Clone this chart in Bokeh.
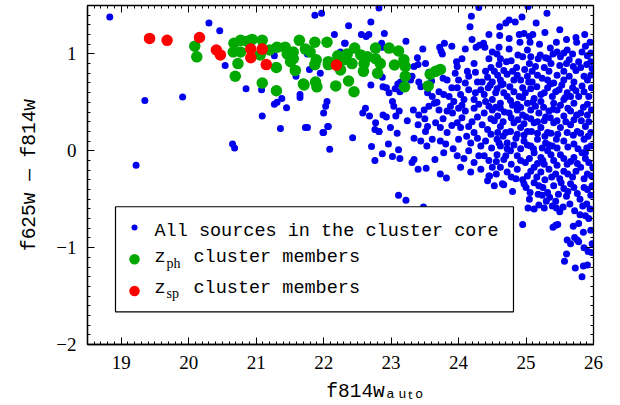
import math
from bokeh.plotting import figure
from bokeh.models import Range1d, FixedTicker, LinearAxis, Label, BoxAnnotation, ColumnDataSource
from bokeh.embed import file_html
from bokeh.resources import INLINE

x_ticks = [19, 20, 21, 22, 23, 24, 25, 26]
y_ticks = [-2, -1, 0, 1]
y_tick_labels = {-2: "\u22122", -1: "\u22121", 0: "0", 1: "1"}

# All sources in the cluster core (f814w_auto, f625w - f814w)
blue_pts = [
    (18.83, 1.38), (20.30, 1.32), (20.46, 1.24), (19.35, 0.52), (19.91, 0.555), (19.22, -0.15),
    (20.54, 0.88), (20.85, 0.64), (21.08, 0.63), (21.09, 0.36), (20.65, 0.07), (20.68, 0.03),
    (21.27, 0.98), (21.27, 0.48), (21.31, 0.50), (21.38, 0.54), (21.45, 0.445), (21.36, 0.23),
    (21.59, 0.77), (21.65, 0.58), (21.65, 0.55), (21.76, 0.24), (21.79, 0.84), (21.76, 1.00),
    (21.99, 0.19), (22.06, 0.25), (22.43, 0.135), (22.09, 0.016), (22.71, 0.043), (22.76, 0.22),
    (22.82, 0.20), (22.96, 0.07), (22.87, -0.03), (22.76, -0.10), (23.02, -0.06), (23.13, -0.08),
    (23.11, 0.01), (23.11, -0.46), (23.22, -0.51), (21.95, 0.80), (22.25, 1.02), (22.32, 1.11),
    (22.82, 1.475), (24.30, 1.48), (25.03, 1.49), (21.87, 1.40), (21.97, 1.42), (24.19, 1.39),
    (22.70, 1.33), (22.37, 1.29), (24.17, 1.28), (24.61, 1.28), (24.70, 1.32), (24.75, 1.35),
    (24.84, 1.33), (24.94, 1.38), (25.15, 1.32), (25.31, 1.42), (25.28, 1.22), (24.61, 1.19),
    (24.90, 1.20), (24.97, 1.21), (25.05, 1.18), (25.10, 1.20), (24.91, 1.12), (25.06, 1.12),
    (25.74, 1.17), (25.75, 1.12),
    (22.16, 1.20), (22.56, 1.20), (22.63, 1.18), (22.67, 1.20), (22.90, 1.21), (22.31, 1.11),
    (22.86, 1.11), (22.87, 1.07), (23.22, 1.13), (23.47, 1.05), (23.72, 1.07), (23.79, 1.11),
    (23.74, 1.03), (23.90, 1.08), (23.76, 1.00), (24.26, 1.07), (24.31, 1.09), (24.37, 1.11),
    (24.39, 1.07), (24.60, 1.07), (24.75, 1.05), (25.02, 1.04), (25.36, 1.06), (25.46, 1.02),
    (25.56, 1.01), (25.61, 1.04), (25.69, 1.00), (25.83, 1.02), (25.96, 1.01), (24.88, 0.99),
    (25.21, 0.99), (24.62, 0.95), (24.57, 1.00), (24.60, 0.89), (24.71, 0.92), (24.78, 0.93),
    (24.95, 0.97), (25.07, 0.97), (25.18, 0.95), (25.29, 0.96), (25.40, 1.00), (25.51, 0.97),
    (25.64, 0.94), (25.78, 0.92), (25.91, 0.98), (25.96, 0.92),
    (23.39, 0.96), (23.40, 0.89), (23.51, 0.90), (23.34, 0.87), (23.97, 0.92), (23.98, 0.87),
    (24.23, 0.90), (24.13, 0.82), (24.25, 0.81), (24.40, 0.82), (24.43, 0.76), (24.53, 0.82),
    (24.67, 0.83), (24.72, 0.79), (24.80, 0.82), (24.87, 0.78), (25.02, 0.77), (25.09, 0.82),
    (25.17, 0.78), (25.24, 0.75), (25.34, 0.82), (25.46, 0.78), (25.56, 0.82), (25.64, 0.77),
    (25.74, 0.83), (25.86, 0.77), (25.96, 0.78), (25.90, 0.89), (23.72, 0.85), (23.66, 0.83),
    (23.56, 0.81), (23.77, 0.75), (23.83, 0.73), (24.00, 0.73), (24.15, 0.77), (24.28, 0.71),
    (24.35, 0.71), (24.50, 0.71), (24.62, 0.73), (24.82, 0.73), (24.92, 0.73), (25.09, 0.71),
    (25.32, 0.73), (25.41, 0.70), (25.56, 0.73), (25.71, 0.71), (25.91, 0.73),
    (22.87, 0.76), (23.14, 0.71), (23.31, 0.77), (23.29, 0.73), (23.10, 0.69), (23.41, 0.71),
    (22.70, 0.68), (22.88, 0.66), (22.93, 0.65), (22.97, 0.60), (23.06, 0.64), (23.13, 0.61),
    (23.44, 0.66), (23.98, 0.65), (24.03, 0.58), (24.15, 0.63), (24.33, 0.63), (24.38, 0.58),
    (24.44, 0.65), (24.57, 0.64), (24.67, 0.60), (24.72, 0.56), (24.82, 0.61), (24.95, 0.65),
    (25.07, 0.64), (25.12, 0.54), (25.22, 0.58), (25.32, 0.65), (25.39, 0.56), (25.49, 0.63),
    (25.61, 0.60), (25.69, 0.65), (25.78, 0.56), (25.86, 0.61), (25.93, 0.56), (23.54, 0.60),
    (23.61, 0.56), (23.71, 0.61), (23.78, 0.58), (23.86, 0.56), (23.93, 0.51), (24.08, 0.53),
    (24.23, 0.53), (24.40, 0.51), (24.50, 0.53), (24.62, 0.49), (24.87, 0.48), (25.02, 0.49),
    (25.14, 0.46), (25.22, 0.51), (25.41, 0.49), (25.56, 0.53), (25.71, 0.49), (25.91, 0.48),
    (23.02, 0.51), (23.04, 0.46), (23.12, 0.41), (23.33, 0.42), (23.41, 0.37), (23.49, 0.42),
    (23.56, 0.46), (23.64, 0.49), (23.71, 0.42), (23.83, 0.41), (23.91, 0.39), (24.00, 0.44),
    (24.10, 0.41), (24.23, 0.44), (24.38, 0.39), (24.50, 0.42), (24.62, 0.44), (24.75, 0.39),
    (24.87, 0.42), (24.95, 0.37), (25.07, 0.42), (25.19, 0.39), (25.34, 0.41), (25.46, 0.42),
    (25.56, 0.36), (25.66, 0.41), (25.81, 0.39), (25.91, 0.37), (22.62, 0.44), (22.68, 0.36),
    (22.88, 0.37), (22.93, 0.35), (23.07, 0.36), (22.03, 0.46), (22.00, 0.39), (22.05, 0.51),
    (21.73, 0.24), (22.07, 0.25), (22.00, 0.19), (22.58, 0.39),
    (22.77, 0.29), (22.82, 0.20), (22.99, 0.24), (23.09, 0.18), (23.24, 0.31), (23.40, 0.27),
    (23.51, 0.20), (23.54, 0.25), (23.66, 0.29), (23.73, 0.24), (23.83, 0.19), (23.98, 0.29),
    (24.03, 0.24), (24.15, 0.25), (24.23, 0.19), (24.35, 0.27), (24.43, 0.22), (24.53, 0.31),
    (24.62, 0.25), (24.70, 0.19), (24.82, 0.29), (24.92, 0.24), (25.02, 0.20), (25.12, 0.29),
    (25.22, 0.24), (25.32, 0.19), (25.41, 0.29), (25.51, 0.24), (25.66, 0.27), (25.76, 0.20),
    (25.88, 0.25), (25.96, 0.19), (23.34, 0.13), (23.44, 0.10), (23.61, 0.12), (23.73, 0.10),
    (23.81, 0.07), (24.00, 0.12), (24.18, 0.08), (24.28, 0.13), (24.40, 0.10), (24.57, 0.12),
    (24.72, 0.08), (24.85, 0.13), (24.97, 0.10), (25.07, 0.05), (25.17, 0.12), (25.29, 0.08),
    (25.39, 0.05), (25.56, 0.10), (25.71, 0.07), (25.86, 0.12), (25.96, 0.05),
    (23.34, -0.09), (23.53, 0.05), (23.65, -0.09), (23.78, -0.02), (23.98, -0.05), (24.15, 0.00),
    (24.23, -0.12), (24.38, -0.05), (24.45, -0.10), (24.57, -0.04), (24.67, -0.09), (24.77, 0.00),
    (24.87, -0.05), (24.99, -0.12), (25.12, -0.02), (25.22, -0.07), (25.32, 0.00), (25.41, -0.10),
    (25.51, -0.04), (25.61, -0.14), (25.71, -0.07), (25.83, -0.02), (25.93, -0.12), (23.31, -0.12),
    (23.40, -0.19), (23.52, -0.18), (23.73, -0.24), (23.82, -0.28), (24.03, -0.17), (24.18, -0.22),
    (24.33, -0.19), (24.45, -0.26), (24.62, -0.17), (24.72, -0.22), (24.87, -0.19), (25.02, -0.26),
    (25.12, -0.17), (25.22, -0.22), (25.34, -0.19), (25.44, -0.24), (25.56, -0.21), (25.69, -0.27),
    (25.81, -0.17), (25.91, -0.24),
    (24.65, -0.34), (24.85, -0.29), (25.06, -0.43), (25.32, -0.43), (25.19, -0.36), (25.41, -0.36),
    (25.56, -0.39), (25.66, -0.34), (25.76, -0.44), (25.86, -0.38), (25.96, -0.46), (24.43, -0.31),
    (24.53, -0.36), (24.97, -0.34), (25.12, -0.33), (25.24, -0.46), (24.46, -0.26), (24.67, -0.35),
    (23.48, -0.58), (25.03, -0.59), (25.19, -0.56), (25.44, -0.52), (25.45, -0.59),
    (24.95, -0.76), (25.40, -0.79), (25.44, -0.77), (25.47, -0.76), (25.61, -0.92), (25.66, -0.96),
    (25.72, -0.895), (25.76, -0.92), (25.78, -0.94), (25.60, -1.065), (25.57, -1.14), (25.73, -1.21),
    (25.83, -1.30), (25.85, -1.19), (25.91, -1.18), (25.86, -1.00), (25.85, -0.84), (25.92, -1.04),
    (25.97, -1.05), (25.96, -0.82), (25.98, -0.96), (25.80, -0.66), (25.88, -0.67), (25.93, -0.70),
    (25.12, -0.60), (25.27, -0.59), (25.39, -0.57), (25.50, -0.63), (25.55, -0.58), (25.65, -0.55),
    (25.72, -0.62), (25.78, -0.75), (25.90, -0.55), (25.70, -0.78), (25.95, -0.60),
    # second pass over the densest part
    (24.48, 0.86), (24.58, 0.78), (24.66, 0.69), (24.76, 0.66), (24.86, 0.86), (24.98, 0.84),
    (25.05, 0.90), (25.14, 0.87), (25.27, 0.86), (25.37, 0.90), (25.50, 0.88), (25.60, 0.90),
    (25.70, 0.87), (25.81, 0.86), (25.98, 0.85), (24.47, 0.68), (24.55, 0.60), (24.63, 0.68),
    (24.77, 0.52), (24.90, 0.56), (24.99, 0.60), (25.04, 0.71), (25.16, 0.66), (25.27, 0.60),
    (25.36, 0.69), (25.44, 0.61), (25.53, 0.68), (25.66, 0.56), (25.74, 0.62), (25.83, 0.67),
    (25.97, 0.65), (24.45, 0.46), (24.55, 0.45), (24.68, 0.40), (24.80, 0.47), (24.92, 0.45),
    (25.00, 0.35), (25.10, 0.50), (25.26, 0.45), (25.29, 0.35), (25.40, 0.43), (25.51, 0.47),
    (25.62, 0.44), (25.75, 0.37), (25.85, 0.45), (25.97, 0.42), (24.48, 0.33), (24.58, 0.36),
    (24.66, 0.30), (24.78, 0.34), (24.88, 0.32), (24.97, 0.28), (25.07, 0.33), (25.17, 0.30),
    (25.27, 0.31), (25.36, 0.34), (25.46, 0.31), (25.59, 0.30), (25.71, 0.32), (25.82, 0.31),
    (25.93, 0.30), (24.48, 0.17), (24.58, 0.19), (24.66, 0.15), (24.77, 0.20), (24.87, 0.17),
    (24.97, 0.16), (25.08, 0.20), (25.17, 0.18), (25.28, 0.15), (25.37, 0.18), (25.47, 0.17),
    (25.61, 0.19), (25.70, 0.16), (25.81, 0.18), (25.92, 0.15), (24.49, 0.03), (24.62, 0.05),
    (24.72, 0.02), (24.82, 0.06), (24.92, 0.02), (25.02, 0.06), (25.11, 0.02), (25.24, 0.03),
    (25.34, 0.06), (25.46, 0.03), (25.62, 0.04), (25.77, 0.02), (25.90, 0.03), (24.50, -0.17),
    (24.56, -0.11), (24.78, -0.14), (24.92, -0.10), (25.05, -0.08), (25.17, -0.13), (25.27, -0.14),
    (25.37, -0.04), (25.46, -0.15), (25.56, -0.08), (25.66, -0.11), (25.76, -0.13), (25.88, -0.08),
    (25.99, -0.17), (24.56, -0.24), (24.78, -0.27), (24.95, -0.30), (25.07, -0.21), (25.16, -0.27),
    (25.28, -0.30), (25.38, -0.27), (25.50, -0.29), (25.62, -0.24), (25.74, -0.21), (25.86, -0.29),
    (25.97, -0.26), (25.00, -0.38), (25.25, -0.38), (25.48, -0.45), (25.62, -0.42), (25.71, -0.38),
    (25.91, -0.40), (25.35, -0.48), (25.80, -0.50),
    (23.60, 0.72), (23.90, 0.65), (24.10, 0.70), (24.25, 0.60), (23.68, 0.50), (23.88, 0.46),
    (24.05, 0.47), (24.30, 0.48), (23.50, 0.33), (23.77, 0.33), (24.05, 0.34), (24.28, 0.35),
    (23.90, 0.26), (24.12, 0.15), (24.33, 0.05), (23.92, 0.02), (24.08, -0.08), (24.30, -0.05),
    (24.20, 0.30), (23.95, 0.80), (24.05, 0.95), (24.45, 0.95),
    (25.20, 1.10), (25.45, 1.12), (25.60, 1.15), (25.88, 1.08), (25.95, 1.12), (25.50, 1.25),
    (24.45, 1.20), (24.75, 1.16), (24.50, 1.02), (25.33, 0.95), (25.87, 1.20), (24.20, 1.15),
    (24.10, 1.05),
    (25.05, -0.50), (25.30, -0.52), (25.60, -0.47), (25.84, -0.57), (25.98, -0.36), (25.52, -0.33),
    (25.18, -0.45), (24.80, -0.42), (24.70, -0.05), (24.60, 0.08), (25.45, 0.12), (25.88, -0.02),
    (25.25, -0.10), (24.95, 0.55), (25.58, 0.55),
]

# z_ph cluster members
green_pts = [
    (20.09, 1.08), (20.12, 0.97), (20.67, 1.11), (20.77, 1.14), (20.87, 1.13), (20.94, 1.15),
    (21.09, 1.14), (20.66, 1.02), (20.77, 1.02), (20.73, 0.90), (20.69, 0.77), (21.09, 0.70),
    (21.30, 0.62), (21.30, 0.86), (21.06, 0.99), (21.20, 1.04), (21.31, 1.07), (21.43, 1.07),
    (21.46, 1.00), (21.51, 0.92), (21.55, 1.02), (21.58, 0.83), (21.70, 0.69), (21.64, 1.14),
    (21.73, 1.05), (21.80, 1.02), (21.87, 1.12), (22.05, 1.12), (21.89, 0.94), (21.87, 0.89),
    (22.07, 0.92), (22.07, 0.89), (22.21, 0.98), (22.25, 0.835), (22.46, 1.06), (22.42, 0.90),
    (22.55, 0.99), (22.60, 0.90), (22.59, 0.82), (22.77, 1.06), (22.77, 0.95), (22.84, 0.90),
    (22.80, 0.80), (22.97, 1.06), (23.11, 1.03), (23.05, 0.886), (23.19, 0.94), (23.21, 0.87),
    (23.21, 0.77), (23.20, 0.66), (22.37, 0.72), (22.45, 0.61), (22.18, 0.67), (21.88, 0.71),
    (21.90, 0.66), (21.71, 0.68), (23.55, 0.67), (23.58, 0.79), (23.66, 0.82), (23.73, 0.84),
    (22.35, 1.00), (22.65, 0.97), (21.55, 0.95), (22.30, 0.94),
]

# z_sp cluster members
red_pts = [
    (19.42, 1.16), (19.68, 1.14), (20.16, 1.17), (20.41, 1.04), (20.47, 0.99), (20.92, 1.05),
    (20.92, 0.96), (21.09, 1.05), (21.15, 0.89), (22.19, 0.885),
]

BLUE = "#0000ee"
GREEN = "#00a800"
RED = "#ff0000"
MONO = "Liberation Mono"
SERIF = "Liberation Serif"

p = figure(width=612, height=405, x_range=Range1d(18.5, 26), y_range=Range1d(-2, 1.5),
           output_backend="svg", toolbar_location=None,
           min_border_left=87, min_border_right=19, min_border_top=5, min_border_bottom=40)
p.grid.visible = False
p.outline_line_color = "black"
p.outline_line_width = 1.3
p.background_fill_color = "white"
p.border_fill_color = "white"

xt = FixedTicker(ticks=x_ticks, minor_ticks=[round(18.5 + 0.1 * i, 2) for i in range(76)])
yt = FixedTicker(ticks=y_ticks, minor_ticks=[round(-2 + 0.1 * i, 2) for i in range(36)])

p.xaxis.ticker = xt
p.yaxis.ticker = yt
p.yaxis.major_label_overrides = y_tick_labels

for ax in (p.xaxis[0], p.yaxis[0]):
    ax.major_tick_in = 7
    ax.major_tick_out = 0
    ax.minor_tick_in = 3
    ax.minor_tick_out = 0
    ax.axis_line_color = "black"
    ax.axis_line_width = 1.3
    ax.major_tick_line_color = "black"
    ax.minor_tick_line_color = "black"
    ax.major_label_text_font = SERIF
    ax.major_label_text_font_size = "19px"
    ax.major_label_text_color = "black"
    ax.axis_label_text_font = MONO
    ax.axis_label_text_font_size = "19.5px"
    ax.axis_label_text_font_style = "normal"
    ax.axis_label_text_color = "black"
p.xaxis.major_label_standoff = 11
p.yaxis.major_label_standoff = 11
# leading no-break spaces move the centred title right, as in the reference
p.xaxis.axis_label = "\u00a0" * 6 + "f814w\u2090\u1d64\u209c\u2092"
p.xaxis.axis_label_standoff = 9
p.yaxis.axis_label = "f625w \u2014 f814w"
p.yaxis.axis_label_standoff = 12

for side, tk, ticks in (("above", xt, x_ticks), ("right", yt, y_ticks)):
    ax = LinearAxis(ticker=tk)
    ax.major_tick_in = 7
    ax.major_tick_out = 0
    ax.minor_tick_in = 3
    ax.minor_tick_out = 0
    ax.major_label_overrides = {t: "" for t in ticks}
    ax.major_label_text_font_size = "0px"
    ax.major_label_standoff = 0
    ax.axis_line_color = "black"
    ax.major_tick_line_color = "black"
    ax.minor_tick_line_color = "black"
    p.add_layout(ax, side)

bsrc = ColumnDataSource(dict(x=[a for a, b in blue_pts], y=[b for a, b in blue_pts]))
gsrc = ColumnDataSource(dict(x=[a for a, b in green_pts], y=[b for a, b in green_pts]))
rsrc = ColumnDataSource(dict(x=[a for a, b in red_pts], y=[b for a, b in red_pts]))

p.scatter("x", "y", source=bsrc, size=7, color=BLUE, line_width=0)
p.scatter("x", "y", source=gsrc, size=11.5, color=GREEN, line_width=0)
p.scatter("x", "y", source=rsrc, size=11.5, color=RED, line_width=0)

# legend box
p.add_layout(BoxAnnotation(left=18.915, right=24.814, top=-0.578, bottom=-1.663,
                           fill_color="white", fill_alpha=1.0, line_color="black",
                           line_width=1.2, line_alpha=1.0))

lm = p.scatter(x=[19.197], y=[-0.793], size=6, color=BLUE, line_width=0)
lm.level = "overlay"
lm = p.scatter(x=[19.197], y=[-1.12], size=10.5, color=GREEN, line_width=0)
lm.level = "overlay"
lm = p.scatter(x=[19.197], y=[-1.448], size=10.5, color=RED, line_width=0)
lm.level = "overlay"

def lab(x, y, t, font=MONO, size="18.5px", **kw):
    p.add_layout(Label(x=x, y=y, text=t, text_font=font, text_font_size=size,
                       text_baseline="middle", text_color="black", **kw))

lab(19.493, -0.834, "All sources in the cluster core")
lab(19.493, -1.10, "z")
lab(19.67, -1.16, "ph", font=SERIF, size="14px")
lab(20.071, -1.10, "cluster members")
lab(19.493, -1.417, "z")
lab(19.67, -1.477, "sp", font=SERIF, size="14px")
lab(20.071, -1.417, "cluster members")

open("out.html", "w").write(file_html(p, INLINE))
